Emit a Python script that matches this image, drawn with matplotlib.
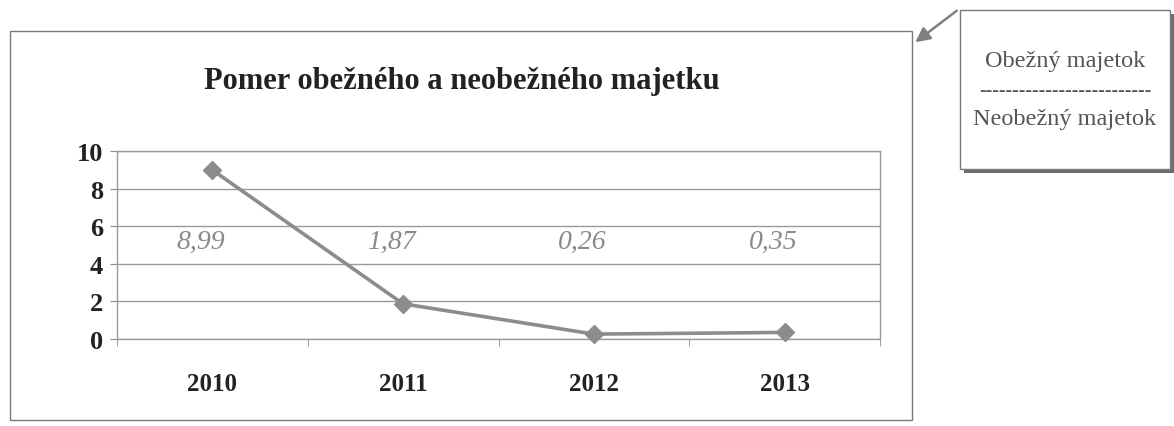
import matplotlib
matplotlib.use("Agg")
import matplotlib.pyplot as plt
from matplotlib.patches import Rectangle, FancyArrowPatch

years = ["2010", "2011", "2012", "2013"]
values = [8.99, 1.87, 0.26, 0.35]
value_labels = ["8,99", "1,87", "0,26", "0,35"]
y_ticks = [0, 2, 4, 6, 8, 10]
title = "Pomer obežného a neobežného majetku"
callout_top = "Obežný majetok"
callout_bottom = "Neobežný majetok"

W, H = 1174, 427
fig = plt.figure(figsize=(W / 100, H / 100), dpi=100)
fig.patch.set_facecolor("white")

def fx(px):
    return px / W

def fy(py):
    return 1 - py / H

serif = ["Liberation Serif", "DejaVu Serif"]
grey_line = "#8c8c8c"
grid_col = "#9a9a9a"

# outer chart frame
fig.patches.append(Rectangle((fx(10), fy(421)), fx(912) - fx(10), fy(32) - fy(421),
                             transform=fig.transFigure, fill=False,
                             edgecolor="#7a7a7a", linewidth=1.0))

ax = fig.add_axes([fx(117), fy(340), fx(880) - fx(117), fy(152) - fy(340)])
x = list(range(len(years)))
ax.plot(x, values, color=grey_line, linewidth=2.6, marker="D", markersize=9,
        markerfacecolor=grey_line, markeredgecolor=grey_line, zorder=3, clip_on=False)

ax.set_xlim(-0.5, len(years) - 0.5)
ax.set_ylim(0, 10)
ax.set_yticks(y_ticks)
ax.set_yticklabels([str(t) for t in y_ticks], fontfamily=serif, fontweight="bold",
                   fontsize=19, color="#222222")
ax.set_xticks(x)
ax.set_xticklabels(years, fontfamily=serif, fontweight="bold", fontsize=18,
                   color="#222222")
ax.tick_params(axis="x", which="major", length=0, pad=24)
ax.set_xticks([i - 0.5 for i in range(len(years) + 1)], minor=True)
ax.tick_params(axis="x", which="minor", length=5, color=grey_line, direction="out")
ax.tick_params(axis="y", length=5, color=grey_line, direction="out", pad=5)
ax.grid(axis="y", color=grid_col, linewidth=1.0)
ax.set_axisbelow(True)
for s in ax.spines.values():
    s.set_color(grid_col)
    s.set_linewidth(1.0)

for xi, lab in zip(x, value_labels):
    ax.text(xi - 0.06, 5.2, lab, ha="center", va="center", fontfamily=serif,
            fontstyle="italic", fontsize=20, color="#8a8a8a")

fig.text(fx(462), fy(81), title, ha="center", va="center", fontfamily=serif,
         fontweight="bold", fontsize=22, color="#222222")

# callout box with shadow
bx0, by0, bx1, by1 = 960, 11, 1170, 170
fig.patches.append(Rectangle((fx(bx0 + 4), fy(by1 + 4)), fx(bx1) - fx(bx0), fy(by0) - fy(by1),
                             transform=fig.transFigure, facecolor="#6e6e6e",
                             edgecolor="none", zorder=1))
fig.patches.append(Rectangle((fx(bx0), fy(by1)), fx(bx1) - fx(bx0), fy(by0) - fy(by1),
                             transform=fig.transFigure, facecolor="white",
                             edgecolor="#7a7a7a", linewidth=1.0, zorder=2))
cx = (bx0 + bx1) / 2
fig.text(fx(cx), fy(62), callout_top, ha="center", va="center", fontfamily=serif,
         fontsize=17.5, color="#555555", zorder=3)
fig.text(fx(cx), fy(92), "-" * 26, ha="center", va="center", fontfamily=serif,
         fontsize=14, fontweight="bold", color="#555555", zorder=3)
fig.text(fx(cx), fy(120), callout_bottom, ha="center", va="center", fontfamily=serif,
         fontsize=17.5, color="#555555", zorder=3)

arrow = FancyArrowPatch((fx(bx0 - 1), fy(by0 - 1)), (fx(913), fy(45)),
                        transform=fig.transFigure, arrowstyle="-|>",
                        mutation_scale=22, color="#808080", linewidth=1.8)
fig.patches.append(arrow)

fig.savefig("out.png", dpi=100)
